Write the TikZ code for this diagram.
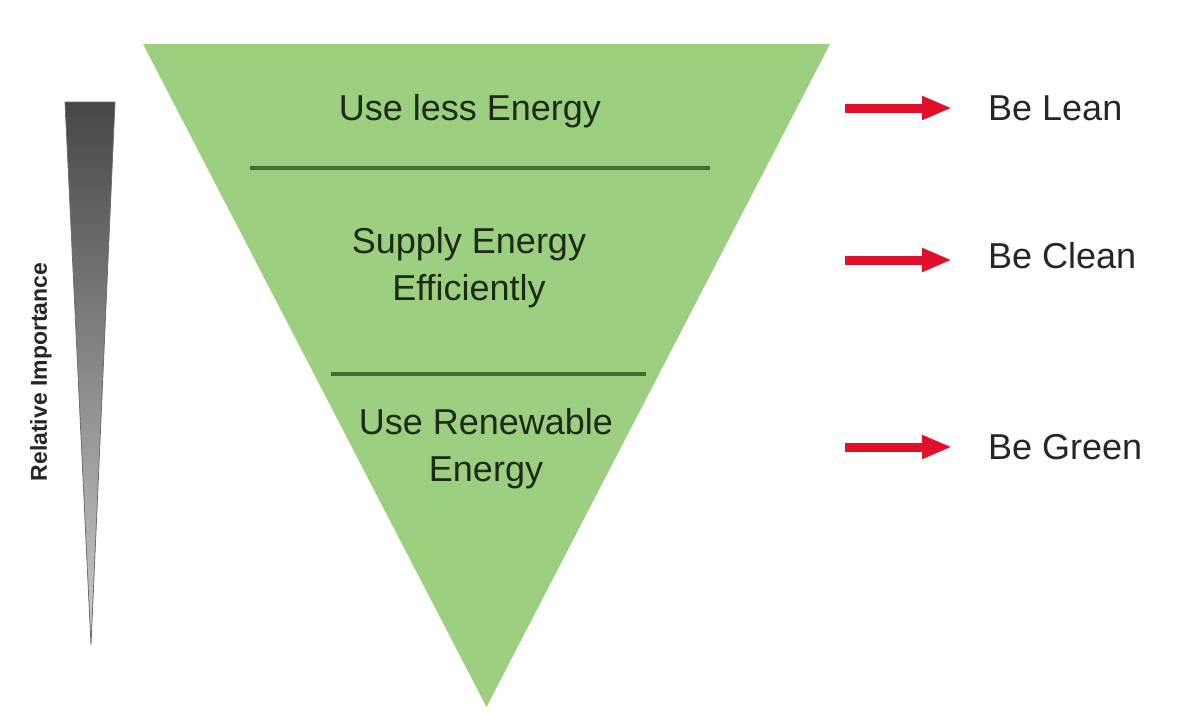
\documentclass[tikz,border=0pt]{standalone}
\usepackage{fontspec}
\setmainfont{Liberation Sans}
\usetikzlibrary{arrows.meta}
\definecolor{pyrgreen}{HTML}{9CCF80}
\definecolor{divgreen}{HTML}{3F6E33}
\definecolor{txtdark}{HTML}{1C2A17}
\definecolor{arrred}{HTML}{E0102A}
\definecolor{bartop}{HTML}{474747}
\definecolor{barbot}{HTML}{CCCCCC}
\tikzset{
  layertext/.style={font=\fontsize{36}{47}\selectfont, text=txtdark, align=center, anchor=base, inner sep=0pt},
  sidetext/.style={font=\fontsize{36}{43}\selectfont, text=black!85, anchor=base west, inner sep=0pt},
  divider/.style={draw=divgreen, line width=3.2pt},
  redarrow/.style={draw=arrred, line width=9pt, -{Triangle[length=30pt,width=22pt]}},
}
\begin{document}
\begin{tikzpicture}[x=1pt,y=-1pt]
\useasboundingbox (0,0) rectangle (1200,726);
% gradient bar
\shade[top color=bartop, bottom color=barbot, draw=bartop!80, line width=0.8pt]
  (65,102) -- (115,102) -- (91,645) -- cycle;
\node[rotate=90, font=\bfseries\fontsize{23}{27}\selectfont, text=black!85] (rel) at (41,372) {Relative Importance};
% pyramid
\fill[pyrgreen] (143,44) -- (830,44) -- (486.5,707) -- cycle;
\coordinate (d1l) at (250,168);
\coordinate (d1r) at (710,168);
\coordinate (d2l) at (331,374);
\coordinate (d2r) at (646,374);
\draw[divider] (d1l) -- (d1r);
\draw[divider] (d2l) -- (d2r);
\node[layertext] (t1) at (470,120) {Use less Energy};
\node[layertext] (t2) at (469,300) {Supply Energy\\Efficiently};
\node[layertext] (t3) at (486,481) {Use Renewable\\Energy};
% right labels
\node[sidetext] (lean) at (988,120) {Be Lean};
\node[sidetext] (clean) at (988,268) {Be Clean};
\node[sidetext] (green) at (988,459) {Be Green};
\coordinate (a1) at (845,108);
\coordinate (a2) at (845,260);
\coordinate (a3) at (845,447);
\draw[redarrow, shorten >=36pt] (a1) -- (lean.west |- a1);
\draw[redarrow, shorten >=36pt] (a2) -- (clean.west |- a2);
\draw[redarrow, shorten >=36pt] (a3) -- (green.west |- a3);
\end{tikzpicture}
\end{document}
